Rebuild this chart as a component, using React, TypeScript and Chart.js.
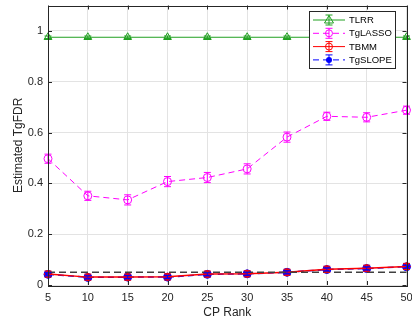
import React, { useEffect, useRef } from "react";
import { Chart, registerables } from "chart.js";

Chart.register(...registerables);

const cpRank = [5, 10, 15, 20, 25, 30, 35, 40, 45, 50];
const tlrr = [0.975, 0.975, 0.975, 0.975, 0.975, 0.975, 0.975, 0.975, 0.975, 0.975];
const tlrrErr = [0.005, 0.005, 0.005, 0.005, 0.005, 0.005, 0.005, 0.005, 0.005, 0.005];
const tglasso = [0.497, 0.351, 0.335, 0.407, 0.423, 0.457, 0.582, 0.664, 0.66, 0.688];
const tglassoErr = [0.018, 0.018, 0.02, 0.02, 0.02, 0.02, 0.02, 0.016, 0.018, 0.016];
const tbmm = [0.043, 0.031, 0.031, 0.032, 0.043, 0.044, 0.05, 0.062, 0.066, 0.073];
const tbmmErr = [0.012, 0.012, 0.012, 0.012, 0.012, 0.012, 0.012, 0.012, 0.012, 0.012];
const tgslope = [0.042, 0.03, 0.031, 0.031, 0.042, 0.044, 0.05, 0.061, 0.065, 0.072];
const tgslopeErr = [0.006, 0.006, 0.006, 0.006, 0.006, 0.006, 0.006, 0.006, 0.006, 0.006];
const refLevel = 0.05;
const yTicks = [0, 0.2, 0.4, 0.6, 0.8, 1];
const xTicks = [5, 10, 15, 20, 25, 30, 35, 40, 45, 50];

const FONT = "'Liberation Sans', Arial, sans-serif";
const TEXT = "#262626";

const GREEN = "#20a020";
const MAGENTA = "#ff00ff";
const RED = "#ff0000";
const BLUE = "#0000ff";

function pts(ys: number[]) {
  return cpRank.map((x, i) => ({ x, y: ys[i] }));
}

const errorBarPlugin = {
  id: "errorBars",
  afterDatasetsDraw(chart: any) {
    const ctx = chart.ctx;
    const ys = chart.scales.y;
    chart.data.datasets.forEach((ds: any, di: number) => {
      if (!ds.errors) return;
      const meta = chart.getDatasetMeta(di);
      ctx.save();
      ctx.strokeStyle = ds.borderColor;
      ctx.lineWidth = 1;
      ctx.setLineDash([]);
      meta.data.forEach((el: any, i: number) => {
        const v = ds.data[i].y;
        const e = ds.errors[i];
        const x = el.x;
        const y1 = ys.getPixelForValue(v - e);
        const y2 = ys.getPixelForValue(v + e);
        ctx.beginPath();
        ctx.moveTo(x, y1);
        ctx.lineTo(x, y2);
        ctx.moveTo(x - 3.5, y1);
        ctx.lineTo(x + 3.5, y1);
        ctx.moveTo(x - 3.5, y2);
        ctx.lineTo(x + 3.5, y2);
        ctx.stroke();
      });
      ctx.restore();
    });
  },
};

const framePlugin = {
  id: "frame",
  afterDraw(chart: any) {
    const { ctx, chartArea: a, scales } = chart;
    ctx.save();
    ctx.strokeStyle = TEXT;
    ctx.lineWidth = 1;
    ctx.setLineDash([]);
    ctx.strokeRect(Math.round(a.left) + 0.5, Math.round(a.top) + 0.5, Math.round(a.right - a.left), Math.round(a.bottom - a.top));
    ctx.beginPath();
    xTicks.forEach((t) => {
      const x = Math.round(scales.x.getPixelForValue(t)) + 0.5;
      ctx.moveTo(x, a.bottom);
      ctx.lineTo(x, a.bottom - 4);
      ctx.moveTo(x, a.top);
      ctx.lineTo(x, a.top + 4);
    });
    yTicks.forEach((t) => {
      const y = Math.round(scales.y.getPixelForValue(t)) + 0.5;
      ctx.moveTo(a.left, y);
      ctx.lineTo(a.left + 4, y);
      ctx.moveTo(a.right, y);
      ctx.lineTo(a.right - 4, y);
    });
    ctx.stroke();
    ctx.restore();
  },
};

function drawMarker(ctx: CanvasRenderingContext2D, style: string, x: number, y: number, color: string) {
  ctx.save();
  ctx.strokeStyle = color;
  ctx.fillStyle = color;
  ctx.lineWidth = 1;
  ctx.setLineDash([]);
  ctx.beginPath();
  if (style === "triangle") {
    ctx.moveTo(x, y - 4.5);
    ctx.lineTo(x + 4.5, y + 3);
    ctx.lineTo(x - 4.5, y + 3);
    ctx.closePath();
    ctx.stroke();
  } else if (style === "circle") {
    ctx.arc(x, y, 3.5, 0, Math.PI * 2);
    ctx.stroke();
  } else {
    ctx.arc(x, y, 3, 0, Math.PI * 2);
    ctx.fill();
  }
  ctx.restore();
}

const legendPlugin = {
  id: "customLegend",
  afterDraw(chart: any) {
    const ctx = chart.ctx;
    const items = chart.data.datasets.filter((d: any) => d.legendStyle);
    const bx = 309.5, by = 11.5, bw = 86, bh = 57;
    ctx.save();
    ctx.fillStyle = "#ffffff";
    ctx.fillRect(bx, by, bw, bh);
    ctx.strokeStyle = TEXT;
    ctx.lineWidth = 1;
    ctx.strokeRect(bx, by, bw, bh);
    items.forEach((d: any, i: number) => {
      const y = 20 + i * 13.3;
      ctx.strokeStyle = d.borderColor;
      ctx.lineWidth = 1;
      ctx.setLineDash(d.borderDash || []);
      ctx.beginPath();
      ctx.moveTo(313, y);
      ctx.lineTo(345, y);
      ctx.stroke();
      ctx.setLineDash([]);
      ctx.beginPath();
      ctx.moveTo(329, y - 5);
      ctx.lineTo(329, y + 5);
      ctx.moveTo(325.5, y - 5);
      ctx.lineTo(332.5, y - 5);
      ctx.moveTo(325.5, y + 5);
      ctx.lineTo(332.5, y + 5);
      ctx.stroke();
      drawMarker(ctx, d.legendStyle, 329, y, d.borderColor);
      ctx.fillStyle = "#000000";
      ctx.font = `9.5px ${FONT}`;
      ctx.textBaseline = "middle";
      ctx.textAlign = "left";
      ctx.fillText(d.label, 349, y + 0.5);
    });
    ctx.restore();
  },
};

export default function App() {
  const ref = useRef<HTMLCanvasElement | null>(null);
  useEffect(() => {
    if (!ref.current) return;
    const chart = new Chart(ref.current, {
      type: "line",
      data: {
        datasets: [
          {
            label: "ref",
            data: [{ x: 5, y: refLevel }, { x: 50, y: refLevel }],
            borderColor: "#404040",
            borderWidth: 1.5,
            borderDash: [7, 4],
            pointRadius: 0,
            clip: false,
          } as any,
          {
            label: "TLRR",
            data: pts(tlrr),
            errors: tlrrErr,
            legendStyle: "triangle",
            borderColor: GREEN,
            backgroundColor: "rgba(0,0,0,0)",
            borderWidth: 1,
            pointStyle: "triangle",
            pointRadius: 4.5,
            pointBorderWidth: 1,
            clip: false,
          },
          {
            label: "TgLASSO",
            data: pts(tglasso),
            errors: tglassoErr,
            legendStyle: "circle",
            borderColor: MAGENTA,
            backgroundColor: "rgba(0,0,0,0)",
            borderWidth: 1,
            borderDash: [6, 4],
            pointStyle: "circle",
            pointRadius: 4,
            pointBorderWidth: 1,
            clip: false,
          },
          {
            label: "TBMM",
            data: pts(tbmm),
            errors: tbmmErr,
            legendStyle: "circle",
            borderColor: RED,
            backgroundColor: "rgba(0,0,0,0)",
            borderWidth: 1.5,
            pointStyle: "rectRot",
            pointRadius: 4,
            pointBorderWidth: 1,
            clip: false,
          },
          {
            label: "TgSLOPE",
            data: pts(tgslope),
            errors: tgslopeErr,
            legendStyle: "dot",
            borderColor: BLUE,
            backgroundColor: BLUE,
            borderWidth: 1.5,
            borderDash: [6, 4],
            pointStyle: "circle",
            pointRadius: 4,
            pointBorderWidth: 1,
            clip: false,
          },
        ] as any,
      },
      options: {
        animation: false,
        responsive: false,
        devicePixelRatio: 1,
        layout: { padding: { top: 2, right: 5, left: 0, bottom: 0 } },
        plugins: { legend: { display: false }, tooltip: { enabled: false } },
        scales: {
          x: {
            type: "linear",
            min: 5,
            max: 50,
            afterBuildTicks: (s: any) => {
              s.ticks = xTicks.map((v) => ({ value: v }));
            },
            afterFit: (s: any) => {
              s.height = 42;
              s.paddingLeft = 0;
              s.paddingRight = 0;
            },
            grid: { color: "#e3e3e3", drawTicks: false },
            border: { display: false },
            ticks: { color: TEXT, font: { family: FONT, size: 11 }, padding: 6, maxRotation: 0 },
            title: {
              display: true,
              text: "CP Rank",
              color: TEXT,
              font: { family: FONT, size: 12 },
              padding: { top: 0, bottom: 7 },
            },
          },
          y: {
            type: "linear",
            min: 0,
            max: 1.1,
            afterBuildTicks: (s: any) => {
              s.ticks = yTicks.map((v) => ({ value: v }));
            },
            afterFit: (s: any) => {
              s.width = 48;
              s.paddingTop = 0;
              s.paddingBottom = 0;
            },
            grid: { color: "#e3e3e3", drawTicks: false },
            border: { display: false },
            ticks: {
              color: TEXT,
              font: { family: FONT, size: 11 },
              padding: 5,
              callback: (v: any) => String(+Number(v).toFixed(2)),
            },
            title: {
              display: true,
              text: "Estimated TgFDR",
              color: TEXT,
              font: { family: FONT, size: 12 },
              padding: { top: 11, bottom: 0 },
            },
          },
        },
      },
      plugins: [errorBarPlugin, framePlugin, legendPlugin],
    } as any);
    return () => chart.destroy();
  }, []);
  return (
    <div style={{ position: "fixed", left: 0, top: 0, width: 412, height: 327, background: "#fff" }}>
      <canvas ref={ref} width={412} height={327} style={{ display: "block" }} />
    </div>
  );
}
